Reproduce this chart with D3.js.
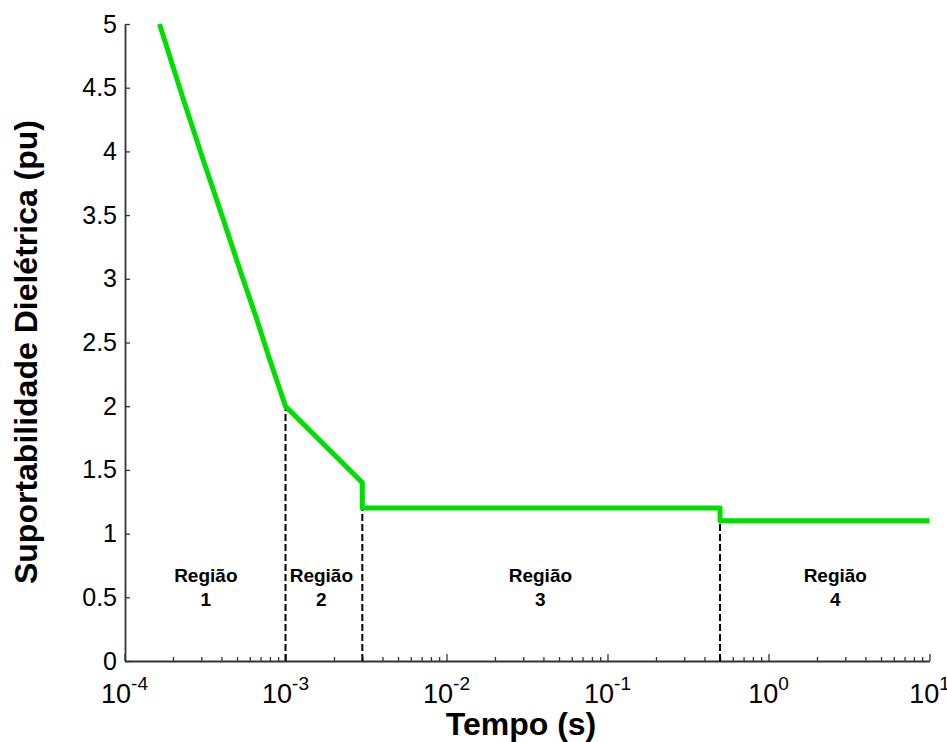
<!DOCTYPE html>
<html>
<head>
<meta charset="utf-8">
<script src="https://cdn.jsdelivr.net/npm/d3@7"></script>
<style>
  html, body { margin: 0; padding: 0; background: #fff; }
  svg { display: block; }
  text { font-family: "Liberation Sans", Arial, sans-serif; fill: #000; }
</style>
</head>
<body>
<svg id="chart" width="947" height="742"></svg>
<script>
// Dielectric withstand curve (pu) versus time (s), log time axis
const curveTime  = [1.65e-4, 2.29e-4, 3.05e-4, 4.0e-4, 5.18e-4, 6.6e-4, 7.96e-4, 1e-3, 3e-3, 3e-3, 0.5, 0.5, 10];
const curveValue = [5.0, 4.43, 3.95, 3.51, 3.08, 2.69, 2.37, 2.0, 1.4, 1.2, 1.2, 1.1, 1.1];

// Region boundaries (dashed verticals) and the curve level they reach
const boundaryTime  = [1e-3, 3e-3, 0.5];
const boundaryValue = [2.0, 1.2, 1.1];

// Region captions
const regionName   = ["Região", "Região", "Região", "Região"];
const regionNumber = ["1", "2", "3", "4"];
const regionTime   = [3.2e-4, 1.67e-3, 0.0383, 2.6];
const regionValue  = [0.62, 0.62, 0.62, 0.62];

// Axis ticks
const xMajorTicks = [1e-4, 1e-3, 1e-2, 1e-1, 1, 10];
const xTickExponents = ["-4", "-3", "-2", "-1", "0", "1"];
const yTicks = [0, 0.5, 1, 1.5, 2, 2.5, 3, 3.5, 4, 4.5, 5];
const yTickLabels = ["0", "0.5", "1", "1.5", "2", "2.5", "3", "3.5", "4", "4.5", "5"];

const xTitle = "Tempo (s)";
const yTitle = "Suportabilidade Dielétrica (pu)";

const svg = d3.select("#chart");

const x = d3.scaleLog().domain([1e-4, 10]).range([124.5, 929.5]);
const y = d3.scaleLinear().domain([0, 5]).range([661, 24]);

// minor ticks 2..9 in each decade
const xMinorTicks = [];
for (let e = -4; e < 1; e++) {
  for (let m = 2; m <= 9; m++) xMinorTicks.push(m * Math.pow(10, e));
}

// ---- x axis ----
const gx = svg.append("g").attr("transform", `translate(0,${y(0)})`);
gx.append("g")
  .call(d3.axisBottom(x).tickValues(xMinorTicks).tickSizeInner(-4).tickSizeOuter(0).tickFormat(""))
  .call(g => g.select(".domain").remove())
  .call(g => g.selectAll("line").attr("stroke", "#333").attr("stroke-width", 1.3));
gx.append("g")
  .call(d3.axisBottom(x).tickValues(xMajorTicks).tickSizeInner(-7).tickSizeOuter(0).tickPadding(0).tickFormat(""))
  .call(g => g.select(".domain").attr("stroke", "#333").attr("stroke-width", 1.8))
  .call(g => g.selectAll("line").attr("stroke", "#333").attr("stroke-width", 1.3));

const xLab = gx.append("g").selectAll("text")
  .data(xMajorTicks)
  .join("text")
  .attr("x", d => x(d))
  .attr("y", 42)
  .attr("text-anchor", "middle")
  .style("font-size", "27px");
xLab.append("tspan").text("10");
xLab.append("tspan")
  .attr("dy", -13)
  .style("font-size", "19px")
  .text((d, i) => xTickExponents[i]);

// ---- y axis ----
const gy = svg.append("g").attr("transform", `translate(${x(1e-4) + 0.5},0)`);
gy.call(d3.axisLeft(y).tickValues(yTicks).tickSizeInner(-5).tickSizeOuter(0).tickPadding(8)
    .tickFormat((d, i) => yTickLabels[i]))
  .call(g => g.select(".domain").attr("stroke", "#333").attr("stroke-width", 1.8))
  .call(g => g.selectAll("line").attr("stroke", "#333").attr("stroke-width", 1.3))
  .call(g => g.selectAll("text")
    .style("font-size", "25px")
    .style("font-family", "'Liberation Sans', Arial, sans-serif")
    .attr("fill", "#000"));

// ---- region boundaries ----
svg.append("g").selectAll("line")
  .data(boundaryTime)
  .join("line")
  .attr("x1", d => x(d))
  .attr("x2", d => x(d))
  .attr("y1", y(0))
  .attr("y2", (d, i) => y(boundaryValue[i]))
  .attr("stroke", "#000")
  .attr("stroke-width", 2)
  .attr("stroke-dasharray", "7,3");

// ---- curve ----
const points = curveTime.map((t, i) => [t, curveValue[i]]);
svg.append("path")
  .datum(points)
  .attr("fill", "none")
  .attr("stroke", "#00dd00")
  .attr("stroke-width", 5)
  .attr("stroke-linejoin", "round")
  .attr("d", d3.line().x(d => x(d[0])).y(d => y(d[1])));

// ---- region captions ----
const rl = svg.append("g").selectAll("text")
  .data(regionTime)
  .join("text")
  .attr("x", d => x(d))
  .attr("y", (d, i) => y(regionValue[i]))
  .attr("text-anchor", "middle")
  .style("font-size", "19px")
  .style("font-weight", "bold");
rl.append("tspan").attr("x", d => x(d)).text((d, i) => regionName[i]);
rl.append("tspan").attr("x", d => x(d)).attr("dy", 24).text((d, i) => regionNumber[i]);

// ---- axis titles ----
svg.append("text")
  .attr("x", 521)
  .attr("y", 735)
  .attr("text-anchor", "middle")
  .style("font-size", "32px")
  .style("font-weight", "bold")
  .text(xTitle);

svg.append("text")
  .attr("transform", "translate(37,352) rotate(-90)")
  .attr("text-anchor", "middle")
  .style("font-size", "32px")
  .style("font-weight", "bold")
  .text(yTitle);
</script>
</body>
</html>
